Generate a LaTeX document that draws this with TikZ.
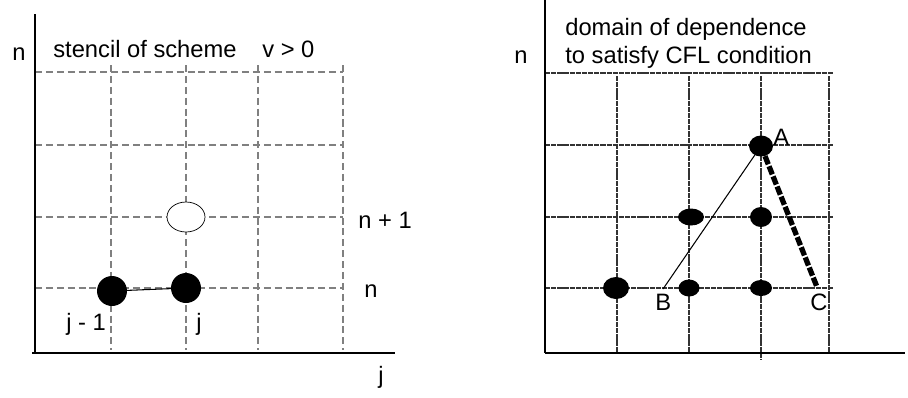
\documentclass[tikz,border=0pt]{standalone}
\usepackage{fontspec}
\setmainfont{Liberation Sans}
\usetikzlibrary{shapes.geometric}

\begin{document}
\begin{tikzpicture}[
          x=0.02cm, y=-0.02cm,
          font=\fontsize{13.5}{16}\selectfont,
          axis/.style={black, line width=0.7pt},
          dgrid/.style={black!50, line width=0.6pt, dash pattern=on 4pt off 2.2pt},
          sgrid/.style={black!80, line width=0.6pt, dash pattern=on 3pt off 0.5pt},
          lbl/.style={inner sep=0pt, anchor=base west},
          dot/.style={ellipse, fill=black, inner sep=0pt},
          hollow/.style={ellipse, draw=black, fill=white, line width=0.4pt, inner sep=0pt},
          cfl/.style={black, line width=3pt, dash pattern=on 5pt off 1.2pt}
        ]
        \useasboundingbox (0,0) rectangle (908,397);
        \foreach \yy in {72,145,217,288} \draw[dgrid] (35,\yy) -- (343,\yy);
        \foreach \xx in {111,186,258,343} \draw[dgrid] (\xx,65) -- (\xx,350);
        \draw[axis] (35,14) -- (35,353);
        \draw[axis] (32,353) -- (395,353);
        \node[lbl] (nl)    at (12,60)  {n};
        \node[lbl] (title) at (53,57)  {stencil of scheme};
        \node[lbl] (vpos)  at (262,57) {v > 0};
        \node[lbl] (np1)   at (358,228) {n + 1};
        \node[lbl] (nn)    at (364,297) {n};
        \node[lbl] (jm1)   at (66,330) {j - 1};
        \node[lbl] (jj)    at (196,330) {j};
        \node[lbl] (jax)   at (378,383) {j};
        \node[hollow, minimum width=0.76cm, minimum height=0.6cm] (new) at (186,217) {};
        \node[dot, minimum width=0.6cm, minimum height=0.6cm] (pm) at (112,291) {};
        \node[dot, minimum width=0.6cm, minimum height=0.6cm] (pj) at (186,288) {};
        \draw[black, line width=0.6pt] (pm.center) -- (pj.center);

        \foreach \yy in {73,145,217,288} \draw[sgrid] (545,\yy) -- (833,\yy);
        \foreach \xx in {617,689,829} \draw[sgrid] (\xx,76) -- (\xx,353);
        \draw[sgrid] (761,76) -- (761,360);
        \draw[axis] (545,0) -- (545,353);
        \draw[axis] (545,353) -- (905,353);
        \node[lbl] (nr)   at (514,63) {n};
        \node[lbl] (dom1) at (565,35) {domain of dependence};
        \node[lbl] (dom2) at (565,63) {to satisfy CFL condition};
        \node[dot, minimum width=0.48cm, minimum height=0.42cm] (A) at (761,146) {};
        \node[dot, minimum width=0.52cm, minimum height=0.34cm] (d1) at (691,217) {};
        \node[dot, minimum width=0.44cm, minimum height=0.4cm]  (d2) at (761,217) {};
        \node[dot, minimum width=0.52cm, minimum height=0.44cm] (d3) at (616,288) {};
        \node[dot, minimum width=0.42cm, minimum height=0.34cm] (d4) at (689,288) {};
        \node[dot, minimum width=0.44cm, minimum height=0.32cm] (d5) at (761,288) {};
        \coordinate (B) at (663,289);
        \coordinate (C) at (817,287);
        \node[lbl] (la) at (773,145) {A};
        \node[lbl] (lb) at (655,310) {B};
        \node[lbl] (lc) at (810,310) {C};
        \draw[black, line width=0.6pt] (A.center) -- (B);
        \draw[cfl] (A.center) -- (C);
      \end{tikzpicture}
\end{document}
